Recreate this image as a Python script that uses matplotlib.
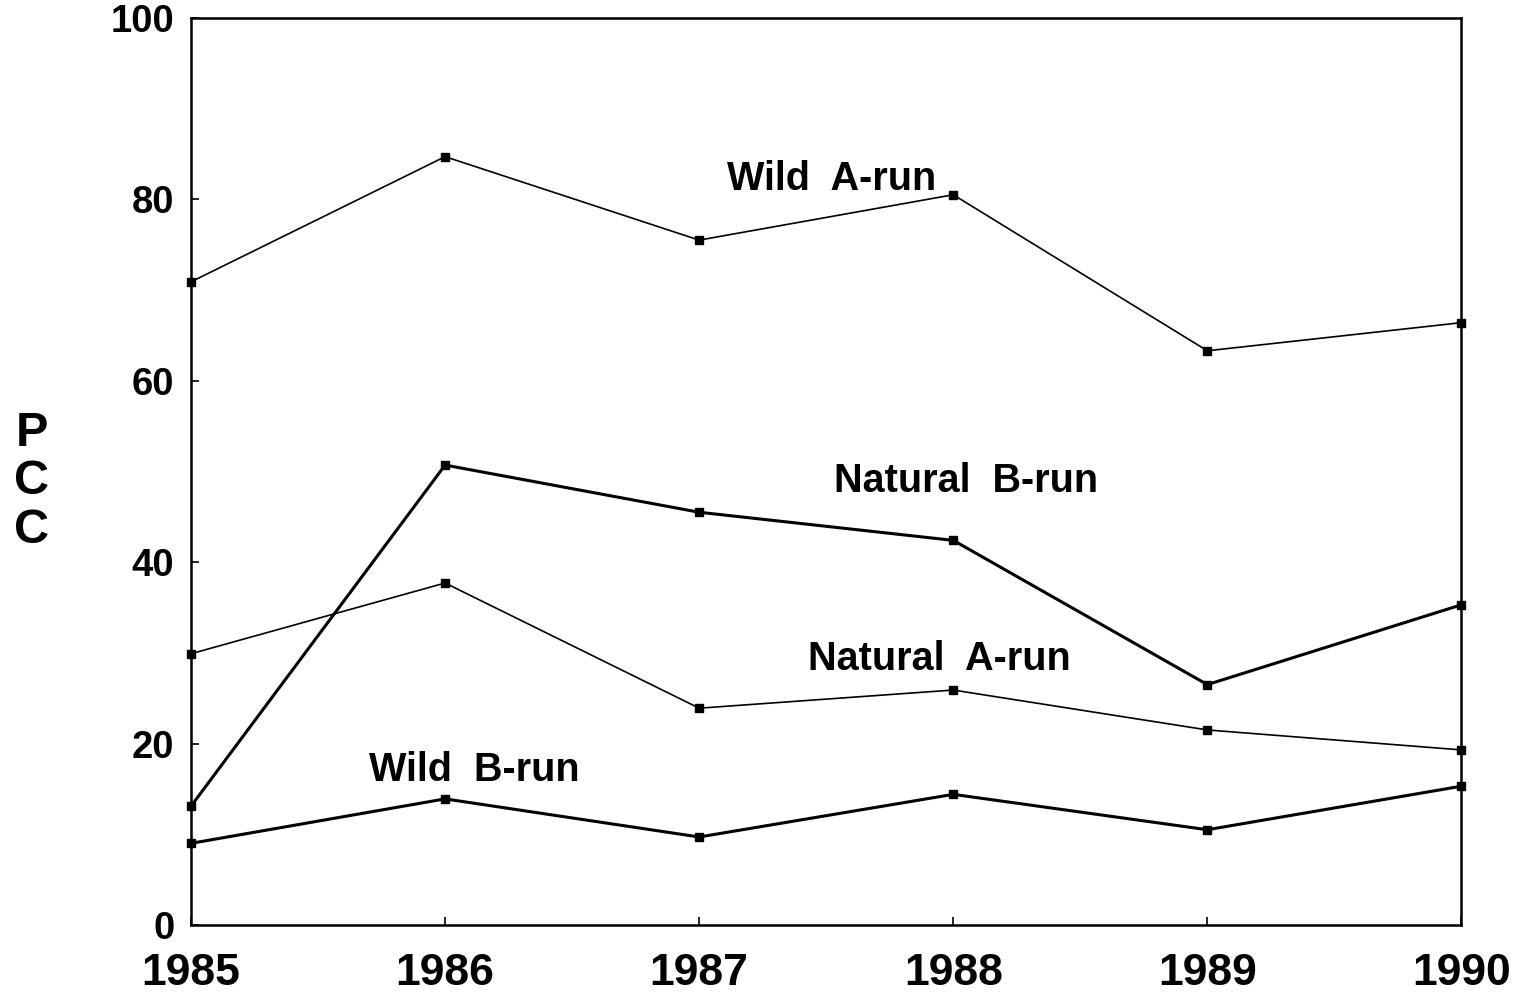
import matplotlib
matplotlib.use("Agg")
import matplotlib.pyplot as plt

plt.rcParams["font.family"] = ["Liberation Sans", "DejaVu Sans"]
plt.rcParams["font.weight"] = "bold"

years = [1985, 1986, 1987, 1988, 1989, 1990]
wild_a = [70.9, 84.7, 75.5, 80.5, 63.3, 66.4]
natural_b = [13.1, 50.7, 45.5, 42.4, 26.5, 35.3]
natural_a = [29.9, 37.7, 23.9, 25.9, 21.5, 19.3]
wild_b = [9.0, 13.9, 9.7, 14.4, 10.5, 15.3]

series = [
    # values, line width, label, label position
    (wild_a, 1.2, "Wild  A-run", (1987.11, 82.2)),
    (natural_b, 2.2, "Natural  B-run", (1987.53, 48.9)),
    (natural_a, 1.2, "Natural  A-run", (1987.43, 29.3)),
    (wild_b, 2.2, "Wild  B-run", (1985.70, 17.1)),
]

fig = plt.figure(figsize=(15.16, 9.93), dpi=100)
ax = fig.add_axes([0.126, 0.0685, 0.838, 0.9135])

for vals, lw, label, (tx, ty) in series:
    ax.plot(years, vals, color="black", lw=lw, marker="s", ms=6,
            clip_on=False)
    ax.text(tx, ty, label, fontsize=28.5, fontweight="bold", va="center",
            ha="left")

ax.set_xlim(1985, 1990)
ax.set_ylim(0, 100)
ax.set_xticks(years)
ax.set_yticks([0, 20, 40, 60, 80, 100])
ax.tick_params(axis="both", direction="in", length=6, width=1.2)
ax.tick_params(axis="y", labelsize=27.5, pad=12)
ax.tick_params(axis="x", labelsize=32, pad=20)
for lab in ax.get_xticklabels() + ax.get_yticklabels():
    lab.set_fontweight("bold")
for sp in ax.spines.values():
    sp.set_linewidth(1.8)

fig.text(0.021, 0.515, "P\nC\nC", fontsize=35, fontweight="bold",
         ha="center", va="center", linespacing=1.1)

fig.savefig("out.png", dpi=100, facecolor="white")
